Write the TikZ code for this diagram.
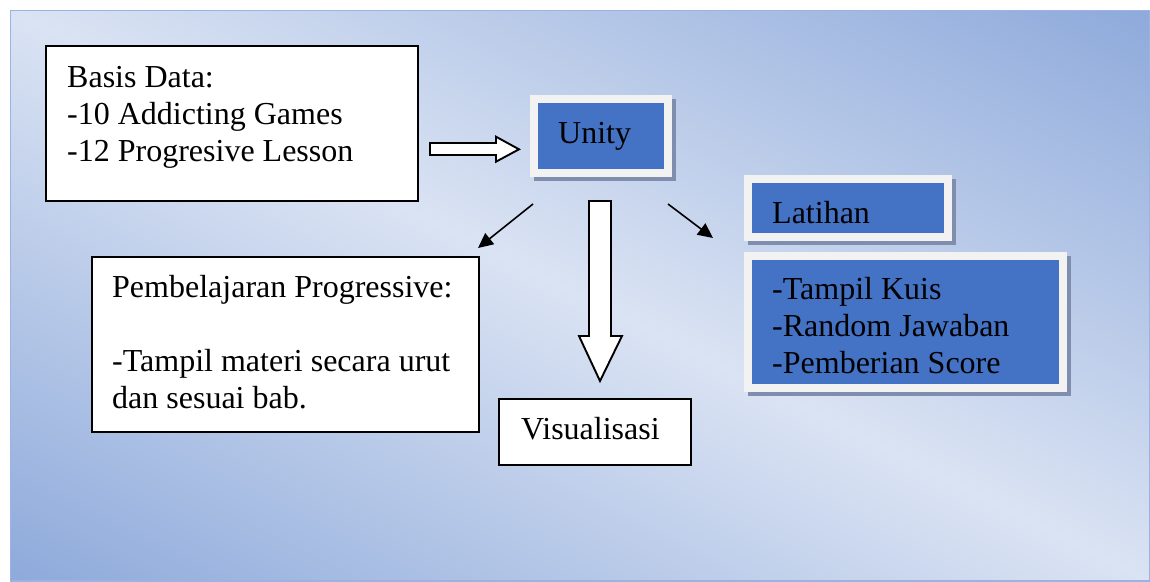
\documentclass[tikz,border=0pt]{standalone}
\usepackage{fontspec}
\setmainfont{Liberation Serif}
\usetikzlibrary{arrows.meta}
\definecolor{dk}{HTML}{8EAADB}
\definecolor{lt}{HTML}{DAE3F3}
\definecolor{bfill}{HTML}{4472C4}
\definecolor{framec}{HTML}{F2F2F2}
\definecolor{shadowc}{HTML}{7F8DAE}
\definecolor{edgec}{HTML}{9BB3E0}
\begin{document}
\begin{tikzpicture}[x=1pt,y=-1pt,
  plainbox/.style={draw=black, line width=1.5pt, fill=white, inner sep=0pt, outer sep=0pt, anchor=north west},
  bluebox/.style={draw=framec, line width=8pt, fill=bfill, inner sep=0pt, outer sep=0pt, anchor=north west,
     preaction={draw=shadowc, fill=shadowc, line width=8pt, transform canvas={shift={(3.5pt,-3.5pt)}}}},
  txt/.style={anchor=base west, inner sep=0pt, align=left, font=\fontsize{32}{37}\selectfont},
  blockarrow/.style={draw=black, line width=1.9pt, fill=white, line join=miter},
  thinarrow/.style={draw=black, line width=1.6pt, -{Triangle[length=15pt,width=14pt]}}
]
\useasboundingbox (0,0) rectangle (1150,581);
\fill[white] (0,0) rectangle (1150,581);
\begin{scope}
  \clip (10,10) rectangle (1150,581);
  \begin{scope}[transform canvas={shift={(580pt,-295.5pt)}, rotate=-26.6}]
    \shade[top color=dk, bottom color=dk, middle color=lt] (-800pt,-510pt) rectangle (800pt,510pt);
  \end{scope}
  \draw[edgec, line width=2pt] (10,10) rectangle (1150,581);
\end{scope}

% boxes
\node[plainbox, minimum width=372pt, minimum height=155pt] (basis) at (46,46) {};
\node[plainbox, minimum width=387pt, minimum height=175pt] (pemb) at (92,257) {};
\node[plainbox, minimum width=192pt, minimum height=66pt] (visual) at (499,399) {};
\node[bluebox, minimum width=134pt, minimum height=74pt] (unity) at (534,99) {};
\node[bluebox, minimum width=200pt, minimum height=58pt] (latihan) at (748,179) {};
\node[bluebox, minimum width=315pt, minimum height=132pt] (list) at (748,256) {};

% texts (multi-line nodes anchored at the baseline of their last line)
\node[txt] (basisT) at (67,161) {Basis Data:\\-10 Addicting Games\\-12 Progresive Lesson};
\node[txt] (unityT) at (558,143) {Unity};
\node[txt] (latT) at (772,223) {Latihan};
\node[txt] (listT) at (772,373) {-Tampil Kuis\\-Random Jawaban\\-Pemberian Score};
\node[txt] (pembT) at (112,408) {Pembelajaran Progressive:\\[37pt]-Tampil materi secara urut\\dan sesuai bab.};
\node[txt] (visT) at (521,439) {Visualisasi};

% block arrows
\draw[blockarrow] (430,143) -- (496,143) -- (496,136.7) -- (519,149.3) -- (496,161.7) -- (496,155) -- (430,155) -- cycle;
\draw[blockarrow] (589,201) -- (611,201) -- (611,336) -- (622,336) -- (600,381) -- (579,336) -- (589,336) -- cycle;

% thin arrows
\coordinate (l1) at (533,204);
\coordinate (l2) at (478,248);
\coordinate (r1) at (668,204);
\coordinate (r2) at (713,238);
\draw[thinarrow] (l1) -- (l2);
\draw[thinarrow] (r1) -- (r2);
\end{tikzpicture}
\end{document}
